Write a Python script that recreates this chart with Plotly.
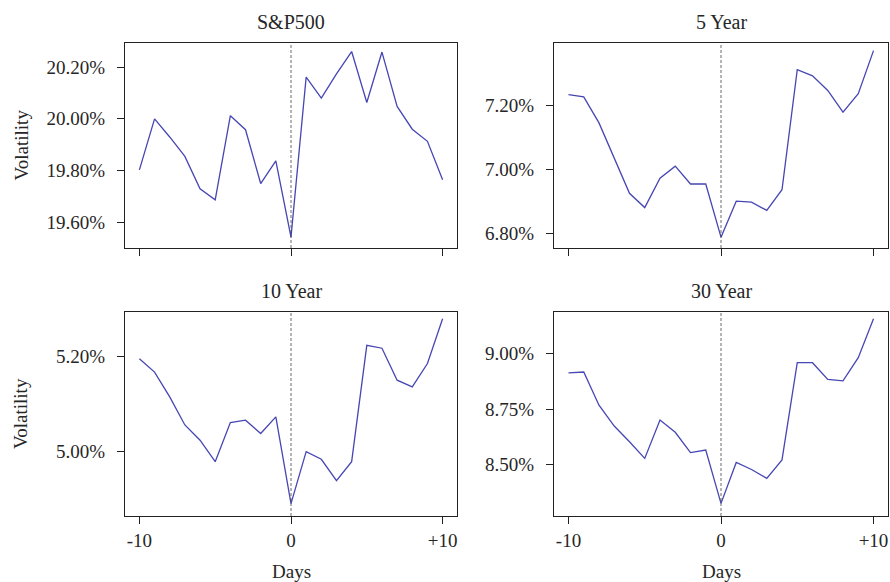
import plotly.graph_objects as go

days = list(range(-10, 11))
tick_vals = [-10, 0, 10]
tick_text = ["-10", "0", "+10"]

titles = ["S&P500", "5 Year", "10 Year", "30 Year"]

sp500 = [19.803, 20.00, 19.93, 19.855, 19.73, 19.687, 20.012, 19.958, 19.75, 19.838,
         19.543, 20.161, 20.08, 20.174, 20.26, 20.063, 20.258, 20.048, 19.96, 19.913, 19.765]
y5 = [7.235, 7.228, 7.146, 7.036, 6.925, 6.88, 6.972, 7.01, 6.954, 6.954,
      6.787, 6.90, 6.897, 6.871, 6.936, 7.313, 7.294, 7.248, 7.18, 7.238, 7.373]
y10 = [5.195, 5.167, 5.115, 5.056, 5.024, 4.979, 5.061, 5.066, 5.038, 5.073,
       4.891, 5.00, 4.984, 4.939, 4.979, 5.223, 5.217, 5.150, 5.136, 5.185, 5.279]
y30 = [8.913, 8.917, 8.767, 8.673, 8.602, 8.527, 8.70, 8.645, 8.553, 8.565,
       8.324, 8.509, 8.477, 8.437, 8.52, 8.959, 8.959, 8.884, 8.877, 8.982, 9.158]

series = [sp500, y5, y10, y30]
ytick_step = [0.2, 0.2, 0.2, 0.25]
yranges = [[19.501, 20.293], [6.753, 7.397], [4.865, 5.293], [8.267, 9.188]]

FONT = "Liberation Serif"
FS = 19
TXT = "#262626"
LINE = "#4646b4"
AX = "#222222"

W, H = 890, 582
xdoms = [[125 / W, 457 / W], [554 / W, 888 / W]]
ydoms = [[1 - 248 / H, 1 - 43 / H], [1 - 516 / H, 1 - 312 / H]]

fig = go.Figure()
layout = dict(
    width=W, height=H,
    margin=dict(l=0, r=0, t=0, b=0, autoexpand=False),
    paper_bgcolor="white", plot_bgcolor="white",
    showlegend=False,
    font=dict(family=FONT, size=FS, color=TXT),
)
annotations = []
shapes = []
for i, (vals, title) in enumerate(zip(series, titles)):
    r, c = divmod(i, 2)
    n = i + 1
    xa = "x" if n == 1 else f"x{n}"
    ya = "y" if n == 1 else f"y{n}"
    fig.add_trace(go.Scatter(x=days, y=vals, mode="lines",
                             line=dict(color=LINE, width=1.3),
                             xaxis=xa, yaxis=ya, hoverinfo="skip"))
    xkey = "xaxis" if n == 1 else f"xaxis{n}"
    ykey = "yaxis" if n == 1 else f"yaxis{n}"
    layout[xkey] = dict(
        domain=xdoms[c], anchor=ya, range=[-10.95, 10.95], automargin=False,
        tickmode="array", tickvals=tick_vals,
        ticktext=tick_text if r == 1 else ["", "", ""],
        ticks="outside", ticklen=7, tickcolor=AX, tickwidth=1,
        showline=True, mirror=True, linecolor=AX, linewidth=1.2,
        showgrid=False, zeroline=False,
        tickfont=dict(family=FONT, size=FS, color=TXT),
    )
    layout[ykey] = dict(
        domain=ydoms[r], anchor=xa, range=yranges[i], automargin=False,
        tick0=0, dtick=ytick_step[i], tickformat=".2f", ticksuffix="%",
        ticks="outside", ticklen=7, tickcolor=AX, tickwidth=1,
        ticklabelstandoff=8,
        showline=True, mirror=True, linecolor=AX, linewidth=1.2,
        showgrid=False, zeroline=False,
        tickfont=dict(family=FONT, size=FS, color=TXT),
    )
    annotations.append(dict(text=title, xref="paper", yref="paper",
                            x=sum(xdoms[c]) / 2, y=ydoms[r][1], yshift=21,
                            xanchor="center", yanchor="middle", showarrow=False,
                            font=dict(family=FONT, size=20, color=TXT)))
    if c == 0:
        annotations.append(dict(text="Volatility", xref="paper", yref="paper",
                                x=21 / W, y=sum(ydoms[r]) / 2, textangle=-90,
                                xanchor="center", yanchor="middle", showarrow=False,
                                font=dict(family=FONT, size=FS, color=TXT)))
    if r == 1:
        annotations.append(dict(text="Days", xref="paper", yref="paper",
                                x=sum(xdoms[c]) / 2, y=1 - 571 / H,
                                xanchor="center", yanchor="middle", showarrow=False,
                                font=dict(family=FONT, size=FS, color=TXT)))
    shapes.append(dict(type="line", xref=xa, yref=f"{ya} domain", x0=0, x1=0, y0=0, y1=1,
                       line=dict(color="#444", width=0.8, dash="3px,2px")))

layout["annotations"] = annotations
layout["shapes"] = shapes
fig.update_layout(**layout)
fig.write_html("out.html", config={"displayModeBar": False},
               post_script="document.body.style.margin='0';document.body.style.overflow='hidden';")
